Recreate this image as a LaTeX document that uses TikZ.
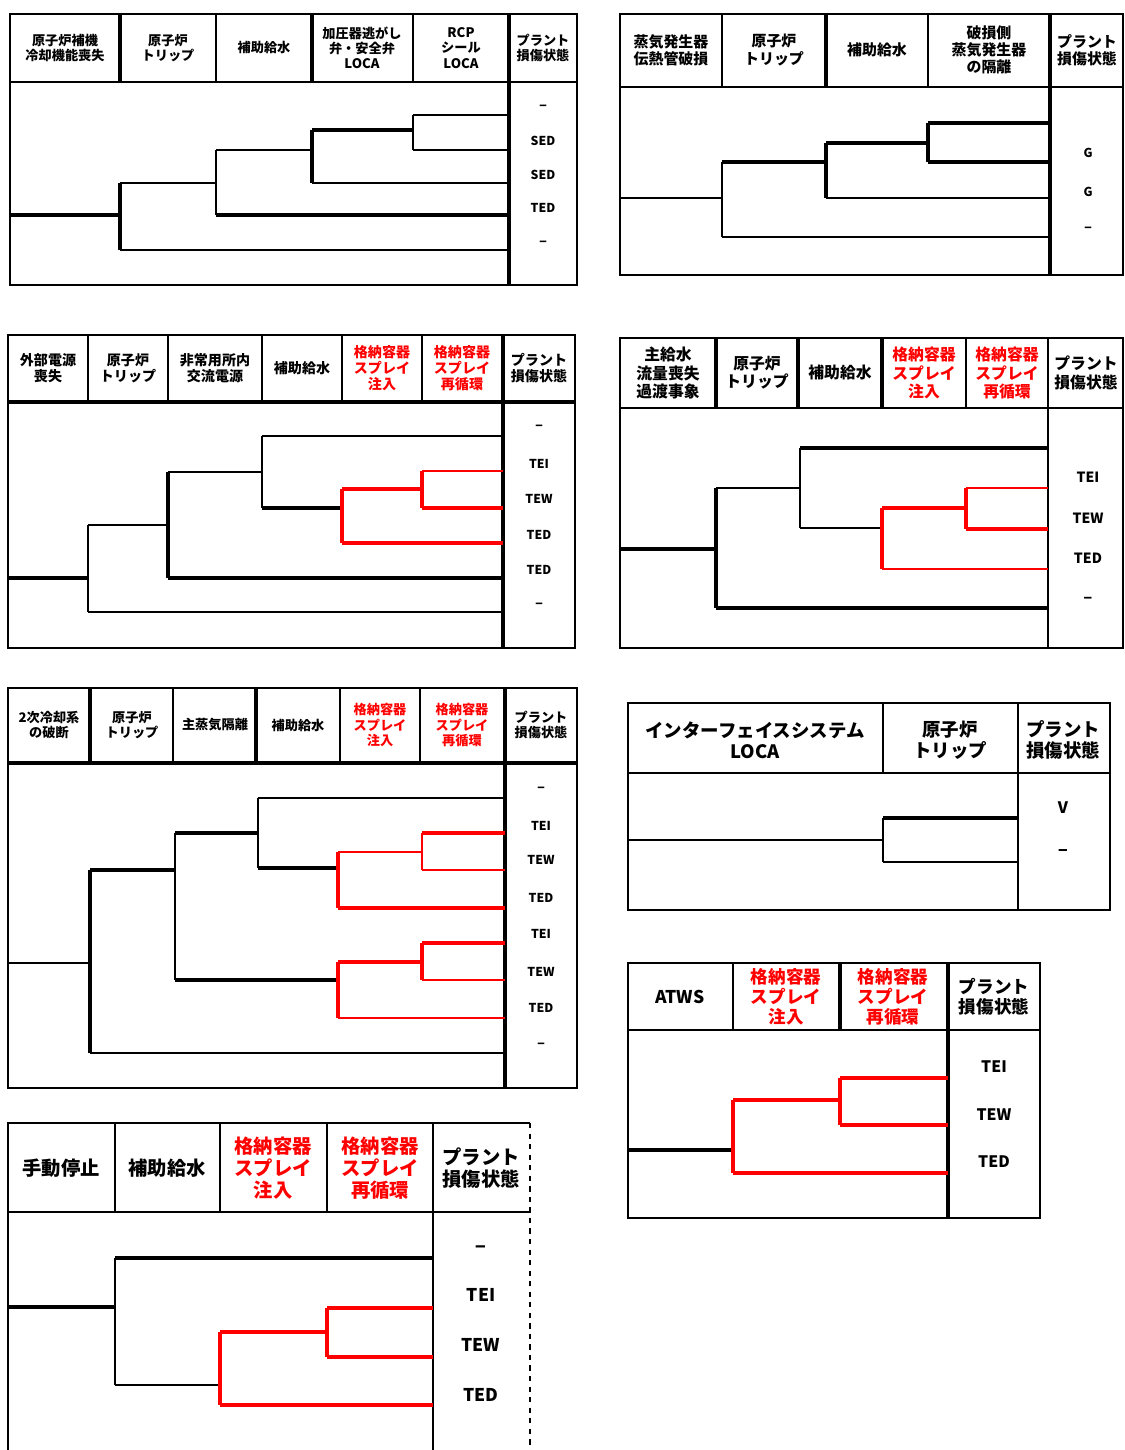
\documentclass[tikz,border=0pt]{standalone}
\usepackage{fontspec}
\newfontfamily\jp{Noto Sans CJK JP}
\usetikzlibrary{positioning}

\begin{document}
\begin{tikzpicture}[
    x=0.02cm, y=-0.02cm,
    frame/.style={line width=1.6pt},
    grid/.style={line width=0.9pt},
    gridk/.style={line width=2pt},
    br/.style={line width=0.8pt},
    brk/.style={line width=1.9pt},
    rbr/.style={line width=0.8pt, red},
    rbrk/.style={line width=1.9pt, red},
    hd/.style={align=center, inner sep=0pt,
      font={\pgfmathsetmacro\lsk{#1*1.15}\jp\bfseries\fontsize{#1}{\lsk}\selectfont}},
    hdr/.style={hd=#1, text=red},
    st/.style={inner sep=0pt, font=\jp\bfseries\fontsize{#1}{#1}\selectfont}
  ]
  \useasboundingbox (0,0) rectangle (1125,1450);

  % --- tree 1
  \draw[frame] (10,14) rectangle (577,285);
  \draw[grid] (10,82) -- (577,82);
  \draw[gridk] (120,14) -- (120,82);
  \draw[grid] (216,14) -- (216,82);
  \draw[gridk] (312,14) -- (312,82);
  \draw[grid] (413,14) -- (413,82);
  \draw[gridk] (509,14) -- (509,285);
  \node[hd=7.5] (a1) at (65,48) {原子炉補機\\冷却機能喪失};
  \node[hd=7.5] (a2) at (168,48) {原子炉\\トリップ};
  \node[hd=7.5] (a3) at (264,48) {補助給水};
  \node[hd=7.5] (a4) at (362,48) {加圧器逃がし\\弁・安全弁\\LOCA};
  \node[hd=7.5] (a5) at (461,48) {RCP\\シール\\LOCA};
  \node[hd=7.5] (a6) at (543,48) {プラント\\損傷状態};
  \draw[brk] (10,215) -- (120,215);
  \draw[brk] (120,183) -- (120,250);
  \draw[br] (120,183) -- (216,183);
  \draw[br] (216,150) -- (216,215);
  \draw[br] (216,150) -- (312,150);
  \draw[brk] (312,130) -- (312,183);
  \draw[brk] (312,130) -- (413,130);
  \draw[br] (413,115) -- (413,150);
  \draw[br] (413,115) -- (509,115);
  \draw[br] (413,150) -- (509,150);
  \draw[br] (312,183) -- (509,183);
  \draw[brk] (216,215) -- (509,215);
  \draw[br] (120,250) -- (509,250);
  \node[st=7] (as1) at (543,108) {−};
  \node[st=7] (as2) at (543,141) {SED};
  \node[st=7] (as3) at (543,175) {SED};
  \node[st=7] (as4) at (543,208) {TED};
  \node[st=7] (as5) at (543,244) {−};

  % --- tree 2
  \draw[frame] (620,14) rectangle (1123,275);
  \draw[grid] (620,87) -- (1123,87);
  \draw[grid] (722,14) -- (722,87);
  \draw[gridk] (826,14) -- (826,87);
  \draw[grid] (928,14) -- (928,87);
  \draw[gridk] (1050,14) -- (1050,275);
  \node[hd=8.5] (b1) at (671,50) {蒸気発生器\\伝熱管破損};
  \node[hd=8.5] (b2) at (774,50) {原子炉\\トリップ};
  \node[hd=8.5] (b3) at (877,50) {補助給水};
  \node[hd=8.5] (b4) at (989,50) {破損側\\蒸気発生器\\の隔離};
  \node[hd=8.5] (b5) at (1087,50) {プラント\\損傷状態};
  \draw[br] (620,198) -- (722,198);
  \draw[br] (722,162) -- (722,237);
  \draw[brk] (722,162) -- (826,162);
  \draw[brk] (826,143) -- (826,198);
  \draw[brk] (826,143) -- (928,143);
  \draw[brk] (928,123) -- (928,162);
  \draw[brk] (928,123) -- (1050,123);
  \draw[brk] (928,162) -- (1050,162);
  \draw[br] (826,198) -- (1050,198);
  \draw[br] (722,237) -- (1050,237);
  \node[st=7] (bs1) at (1088,153) {G};
  \node[st=7] (bs2) at (1088,192) {G};
  \node[st=7] (bs3) at (1088,230) {−};

  % --- tree 3
  \draw[frame] (8,335) rectangle (575,648);
  \draw[gridk] (8,402) -- (575,402);
  \foreach \x in {88,168,262,342,422}
    \draw[grid] (\x,335) -- (\x,402);
  \draw[gridk] (503,335) -- (503,648);
  \node[hd=8] (c1) at (48,368) {外部電源\\喪失};
  \node[hd=8] (c2) at (128,368) {原子炉\\トリップ};
  \node[hd=8] (c3) at (215,368) {非常用所内\\交流電源};
  \node[hd=8] (c4) at (302,368) {補助給水};
  \node[hdr=8] (c5) at (382,368) {格納容器\\スプレイ\\注入};
  \node[hdr=8] (c6) at (462,368) {格納容器\\スプレイ\\再循環};
  \node[hd=8] (c7) at (539,368) {プラント\\損傷状態};
  \draw[brk] (8,578) -- (88,578);
  \draw[br] (88,525) -- (88,612);
  \draw[br] (88,525) -- (168,525);
  \draw[br] (88,612) -- (503,612);
  \draw[brk] (168,472) -- (168,578);
  \draw[br] (168,472) -- (262,472);
  \draw[brk] (168,578) -- (503,578);
  \draw[br] (262,436) -- (262,508);
  \draw[br] (262,436) -- (503,436);
  \draw[brk] (262,508) -- (342,508);
  \draw[rbrk] (342,489) -- (342,543);
  \draw[rbrk] (342,489) -- (422,489);
  \draw[rbrk] (342,543) -- (503,543);
  \draw[rbrk] (422,471) -- (422,508);
  \draw[rbr] (422,471) -- (503,471);
  \draw[rbrk] (422,508) -- (503,508);
  \node[st=7] (cs1) at (539,428) {−};
  \node[st=7] (cs2) at (539,464) {TEI};
  \node[st=7] (cs3) at (539,499) {TEW};
  \node[st=7] (cs4) at (539,535) {TED};
  \node[st=7] (cs5) at (539,570) {TED};
  \node[st=7] (cs6) at (539,606) {−};

  % --- tree 4
  \draw[frame] (620,338) rectangle (1123,648);
  \draw[grid] (620,408) -- (1123,408);
  \draw[gridk] (716,338) -- (716,408);
  \draw[gridk] (798,338) -- (798,408);
  \draw[gridk] (882,338) -- (882,408);
  \draw[grid] (966,338) -- (966,408);
  \draw[grid] (1048,338) -- (1048,648);
  \node[hd=9] (d1) at (668,373) {主給水\\流量喪失\\過渡事象};
  \node[hd=9] (d2) at (757,373) {原子炉\\トリップ};
  \node[hd=9] (d3) at (840,373) {補助給水};
  \node[hdr=9] (d4) at (924,373) {格納容器\\スプレイ\\注入};
  \node[hdr=9] (d5) at (1007,373) {格納容器\\スプレイ\\再循環};
  \node[hd=9] (d6) at (1086,373) {プラント\\損傷状態};
  \draw[brk] (620,549) -- (716,549);
  \draw[brk] (716,488) -- (716,608);
  \draw[br] (716,488) -- (800,488);
  \draw[br] (800,448) -- (800,528);
  \draw[brk] (800,448) -- (1048,448);
  \draw[br] (800,528) -- (882,528);
  \draw[rbrk] (882,508) -- (882,569);
  \draw[rbrk] (882,508) -- (966,508);
  \draw[rbrk] (966,488) -- (966,529);
  \draw[rbr] (966,488) -- (1048,488);
  \draw[rbrk] (966,529) -- (1048,529);
  \draw[rbr] (882,569) -- (1048,569);
  \draw[brk] (716,608) -- (1048,608);
  \node[st=8] (ds1) at (1088,477) {TEI};
  \node[st=8] (ds2) at (1088,518) {TEW};
  \node[st=8] (ds3) at (1088,558) {TED};
  \node[st=8] (ds4) at (1088,600) {−};

  % --- tree 5
  \draw[frame] (8,688) rectangle (577,1088);
  \draw[gridk] (8,763) -- (577,763);
  \draw[gridk] (90,688) -- (90,763);
  \draw[grid] (173,688) -- (173,763);
  \draw[gridk] (256,688) -- (256,763);
  \draw[grid] (340,688) -- (340,763);
  \draw[grid] (420,688) -- (420,763);
  \draw[gridk] (505,688) -- (505,1088);
  \node[hd=7.5] (e1) at (49,725) {2次冷却系\\の破断};
  \node[hd=7.5] (e2) at (132,725) {原子炉\\トリップ};
  \node[hd=7.5] (e3) at (215,725) {主蒸気隔離};
  \node[hd=7.5] (e4) at (298,725) {補助給水};
  \node[hdr=7.5] (e5) at (380,725) {格納容器\\スプレイ\\注入};
  \node[hdr=7.5] (e6) at (462,725) {格納容器\\スプレイ\\再循環};
  \node[hd=7.5] (e7) at (541,725) {プラント\\損傷状態};
  \draw[br] (8,963) -- (90,963);
  \draw[brk] (90,870) -- (90,1053);
  \draw[brk] (90,870) -- (175,870);
  \draw[br] (90,1053) -- (505,1053);
  \draw[br] (175,833) -- (175,980);
  \draw[brk] (175,833) -- (258,833);
  \draw[brk] (175,980) -- (338,980);
  \draw[br] (258,798) -- (258,868);
  \draw[br] (258,798) -- (505,798);
  \draw[brk] (258,868) -- (338,868);
  \draw[rbrk] (338,852) -- (338,908);
  \draw[rbr] (338,852) -- (422,852);
  \draw[rbrk] (338,908) -- (505,908);
  \draw[rbr] (422,833) -- (422,870);
  \draw[rbrk] (422,833) -- (505,833);
  \draw[rbr] (422,870) -- (505,870);
  \draw[rbrk] (338,962) -- (338,1018);
  \draw[rbrk] (338,962) -- (422,962);
  \draw[rbr] (338,1018) -- (505,1018);
  \draw[rbrk] (422,943) -- (422,980);
  \draw[rbrk] (422,943) -- (505,943);
  \draw[rbr] (422,980) -- (505,980);
  \node[st=7] (es1) at (541,790) {−};
  \node[st=7] (es2) at (541,826) {TEI};
  \node[st=7] (es3) at (541,860) {TEW};
  \node[st=7] (es4) at (541,898) {TED};
  \node[st=7] (es5) at (541,934) {TEI};
  \node[st=7] (es6) at (541,972) {TEW};
  \node[st=7] (es7) at (541,1008) {TED};
  \node[st=7] (es8) at (541,1046) {−};

  % --- tree 6
  \draw[frame] (628,703) rectangle (1110,910);
  \draw[grid] (628,773) -- (1110,773);
  \draw[grid] (883,703) -- (883,773);
  \draw[grid] (1018,703) -- (1018,910);
  \node[hd=10.5] (f1) at (755,740) {インターフェイスシステム\\LOCA};
  \node[hd=10.5] (f2) at (950,740) {原子炉\\トリップ};
  \node[hd=10.5] (f3) at (1063,740) {プラント\\損傷状態};
  \draw[br] (628,840) -- (883,840);
  \draw[br] (883,818) -- (883,862);
  \draw[brk] (883,818) -- (1018,818);
  \draw[br] (883,862) -- (1018,862);
  \node[st=9] (fs1) at (1063,808) {V};
  \node[st=9] (fs2) at (1063,853) {−};

  % --- tree 7
  \draw[frame] (628,963) rectangle (1040,1218);
  \draw[grid] (628,1030) -- (1040,1030);
  \draw[grid] (733,963) -- (733,1030);
  \draw[gridk] (840,963) -- (840,1030);
  \draw[gridk] (948,963) -- (948,1218);
  \node[hd=10] (g1) at (680,997) {ATWS};
  \node[hdr=10] (g2) at (786,997) {格納容器\\スプレイ\\注入};
  \node[hdr=10] (g3) at (893,997) {格納容器\\スプレイ\\再循環};
  \node[hd=10] (g4) at (994,997) {プラント\\損傷状態};
  \draw[brk] (628,1150) -- (733,1150);
  \draw[rbrk] (733,1100) -- (733,1173);
  \draw[rbrk] (733,1100) -- (840,1100);
  \draw[rbrk] (840,1078) -- (840,1125);
  \draw[rbrk] (840,1078) -- (948,1078);
  \draw[rbrk] (840,1125) -- (948,1125);
  \draw[rbrk] (733,1173) -- (948,1173);
  \node[st=9] (gs1) at (994,1067) {TEI};
  \node[st=9] (gs2) at (994,1115) {TEW};
  \node[st=9] (gs3) at (994,1162) {TED};

  % --- tree 8
  \draw[frame] (8,1460) -- (8,1123) -- (530,1123);
  \draw[frame, dashed] (530,1123) -- (530,1460);
  \draw[grid] (8,1212) -- (530,1212);
  \foreach \x in {115,220,327}
    \draw[grid] (\x,1123) -- (\x,1212);
  \draw[grid] (433,1123) -- (433,1460);
  \node[hd=11] (h1) at (61,1168) {手動停止};
  \node[hd=11] (h2) at (167,1168) {補助給水};
  \node[hdr=11] (h3) at (273,1168) {格納容器\\スプレイ\\注入};
  \node[hdr=11] (h4) at (380,1168) {格納容器\\スプレイ\\再循環};
  \node[hd=11] (h5) at (481,1168) {プラント\\損傷状態};
  \draw[brk] (8,1307) -- (115,1307);
  \draw[br] (115,1258) -- (115,1385);
  \draw[brk] (115,1258) -- (433,1258);
  \draw[br] (115,1385) -- (220,1385);
  \draw[rbrk] (220,1332) -- (220,1405);
  \draw[rbrk] (220,1332) -- (327,1332);
  \draw[rbrk] (327,1308) -- (327,1357);
  \draw[rbrk] (327,1308) -- (433,1308);
  \draw[rbrk] (327,1357) -- (433,1357);
  \draw[rbrk] (220,1405) -- (433,1405);
  \node[st=10] (hs1) at (481,1250) {−};
  \node[st=10] (hs2) at (481,1295) {TEI};
  \node[st=10] (hs3) at (481,1345) {TEW};
  \node[st=10] (hs4) at (481,1395) {TED};
\end{tikzpicture}
\end{document}
